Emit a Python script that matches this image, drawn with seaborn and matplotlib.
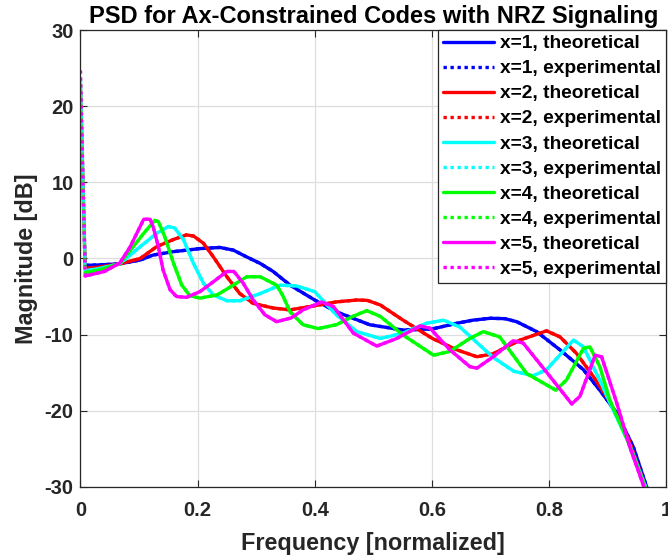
import matplotlib
matplotlib.use("Agg")
import matplotlib.pyplot as plt
import seaborn as sns

# values (frequency normalized, magnitude in dB)
F1 = [0.008, 0.03, 0.067, 0.102, 0.124, 0.159, 0.204, 0.238, 0.261, 0.284, 0.307, 0.329, 0.358,
      0.4, 0.437, 0.494, 0.551, 0.601, 0.643, 0.67, 0.70, 0.725, 0.745, 0.779, 0.819, 0.859,
      0.887, 0.916, 0.944, 0.967, 0.975]
M1 = [-0.9, -0.85, -0.7, -0.2, 0.45, 0.9, 1.3, 1.45, 1.1, 0.2, -0.65, -1.7, -3.5,
      -5.45, -7.0, -8.7, -9.4, -9.25, -8.5, -8.1, -7.85, -7.9, -8.3, -9.6, -12.0, -14.6,
      -17.3, -20.3, -24.7, -30.0, -32.0]

F2 = [0.008, 0.03, 0.067, 0.102, 0.13, 0.159, 0.181, 0.193, 0.21, 0.227, 0.25, 0.272, 0.295,
      0.329, 0.358, 0.40, 0.437, 0.472, 0.49, 0.512, 0.551, 0.601, 0.643, 0.677, 0.705, 0.751,
      0.796, 0.819, 0.847, 0.876, 0.904, 0.935, 0.965, 0.973]
M2 = [-1.3, -1.15, -0.7, 0.0, 1.55, 2.5, 3.1, 2.95, 2.0, 0.2, -2.4, -4.6, -5.9,
      -6.5, -6.75, -6.2, -5.7, -5.45, -5.5, -6.1, -8.1, -10.5, -12.0, -12.9, -12.5, -10.7,
      -9.5, -10.3, -12.45, -15.5, -18.8, -23.5, -30.0, -32.0]

F3 = [0.008, 0.03, 0.067, 0.102, 0.13, 0.15, 0.161, 0.176, 0.193, 0.21, 0.227, 0.25, 0.272,
      0.307, 0.341, 0.369, 0.40, 0.437, 0.472, 0.512, 0.551, 0.591, 0.62, 0.648, 0.705, 0.74,
      0.773, 0.796, 0.842, 0.859, 0.887, 0.91, 0.938, 0.965, 0.973]
M3 = [-1.6, -1.35, -0.7, 1.55, 3.3, 4.2, 4.0, 2.45, -0.65, -3.25, -4.8, -5.55, -5.55,
      -4.6, -3.5, -3.6, -4.35, -7.4, -9.6, -10.5, -9.8, -8.5, -8.1, -9.0, -13.0, -14.8,
      -15.4, -14.6, -10.7, -11.6, -16.0, -19.9, -24.5, -30.0, -32.0]

F4 = [0.008, 0.03, 0.067, 0.09, 0.11, 0.127, 0.133, 0.144, 0.159, 0.173, 0.187, 0.204, 0.233,
      0.261, 0.284, 0.307, 0.335, 0.345, 0.358, 0.38, 0.406, 0.437, 0.465, 0.489, 0.512, 0.551,
      0.603, 0.631, 0.665, 0.688, 0.716, 0.762, 0.812, 0.83, 0.859, 0.87, 0.887, 0.904, 0.935,
      0.964, 0.972]
M4 = [-1.85, -1.55, -0.7, 1.55, 3.5, 5.0, 4.85, 2.85, -0.65, -3.5, -4.9, -5.2, -4.8,
      -3.5, -2.4, -2.4, -3.5, -4.8, -7.0, -8.7, -9.2, -8.7, -7.6, -6.85, -7.6, -10.05,
      -12.7, -12.2, -10.5, -9.6, -10.3, -15.1, -17.3, -15.95, -11.8, -11.6, -14.2, -18.6, -24.0,
      -30.0, -32.0]

F5 = [0.008, 0.041, 0.067, 0.085, 0.099, 0.108, 0.119, 0.124, 0.133, 0.141, 0.153, 0.164, 0.181,
      0.204, 0.227, 0.25, 0.262, 0.278, 0.295, 0.315, 0.335, 0.36, 0.38, 0.412, 0.432, 0.466,
      0.506, 0.54, 0.58, 0.597, 0.631, 0.665, 0.677, 0.705, 0.739, 0.756, 0.802, 0.839, 0.853,
      0.879, 0.89, 0.916, 0.938, 0.961, 0.968]
M5 = [-2.3, -1.7, -0.6, 1.55, 3.75, 5.15, 5.15, 4.2, 1.55, -1.5, -4.1, -5.0, -5.1,
      -4.35, -3.05, -1.7, -1.7, -3.25, -5.45, -7.4, -8.3, -7.8, -6.75, -5.7, -6.3, -9.8,
      -11.5, -10.5, -8.85, -9.15, -12.0, -14.2, -14.4, -12.9, -10.8, -11.1, -15.5, -19.1, -18.1,
      -12.7, -12.9, -19.0, -24.7, -29.7, -32.0]

# DC spike of the measured spectra at f = 0
EXP_DC = [22.0, 22.5, 23.5, 23.0, 24.7]

FREQS = [F1, F2, F3, F4, F5]
MAGS = [M1, M2, M3, M4, M5]
CODES = ["1", "2", "3", "4", "5"]
COLORS = ["#0000ff", "#ff0000", "#00ffff", "#00ff00", "#ff00ff"]

XTICKS = [0, 0.2, 0.4, 0.6, 0.8, 1.0]
XTICK_LABELS = ["0", "0.2", "0.4", "0.6", "0.8", "1"]
YTICKS = [-30, -20, -10, 0, 10, 20, 30]

sns.set_style("ticks")
plt.rcParams["font.family"] = ["Liberation Sans", "DejaVu Sans"]
plt.rcParams["font.weight"] = "bold"
plt.rcParams["axes.titleweight"] = "bold"
plt.rcParams["axes.labelweight"] = "bold"
plt.rcParams["axes.unicode_minus"] = False
TXT = "#262626"

fig = plt.figure(figsize=(6.68, 5.6), dpi=100)
fig.subplots_adjust(left=0.1205, right=0.997, top=0.9464, bottom=0.1304)
ax = fig.add_subplot(111)

for f, m, x, dc, c in zip(FREQS, MAGS, CODES, EXP_DC, COLORS):
    sns.lineplot(x=f, y=m, ax=ax, color=c, linewidth=2.4, sort=False,
                 label=f"x={x}, theoretical")
    sns.lineplot(x=[0.0] + f, y=[dc] + m, ax=ax, color=c, linewidth=2.4, sort=False,
                 linestyle=(0, (1, 1.1)), label=f"x={x}, experimental")

ax.set_xlim(0, 1)
ax.set_ylim(-30, 30)
ax.set_xticks(XTICKS)
ax.set_xticklabels(XTICK_LABELS)
ax.set_yticks(YTICKS)
ax.grid(True, color="#dedede", linewidth=0.9)
ax.set_axisbelow(True)
for s in ax.spines.values():
    s.set_color(TXT)
    s.set_linewidth(0.9)
ax.tick_params(direction="in", top=True, right=True, length=5, width=0.8,
               labelsize=14.5, colors=TXT)
ax.tick_params(axis="x", pad=10)
ax.tick_params(axis="y", pad=5)

ax.set_title("PSD for Ax-Constrained Codes with NRZ Signaling", fontsize=17, color="black", pad=5)
ax.set_xlabel("Frequency [normalized]", fontsize=16.8, color=TXT, labelpad=8.5)
ax.set_ylabel("Magnitude [dB]", fontsize=16.8, color=TXT, labelpad=5)

leg = ax.legend(loc="upper right", borderaxespad=0, fancybox=False, framealpha=1,
                edgecolor=TXT, fontsize=13.8, handlelength=2.7, handletextpad=0.3,
                labelspacing=0.4, borderpad=0.25)
leg.get_frame().set_linewidth(0.9)
for t in leg.get_texts():
    t.set_color("black")

fig.savefig("out.png", dpi=100)
plt.close(fig)
